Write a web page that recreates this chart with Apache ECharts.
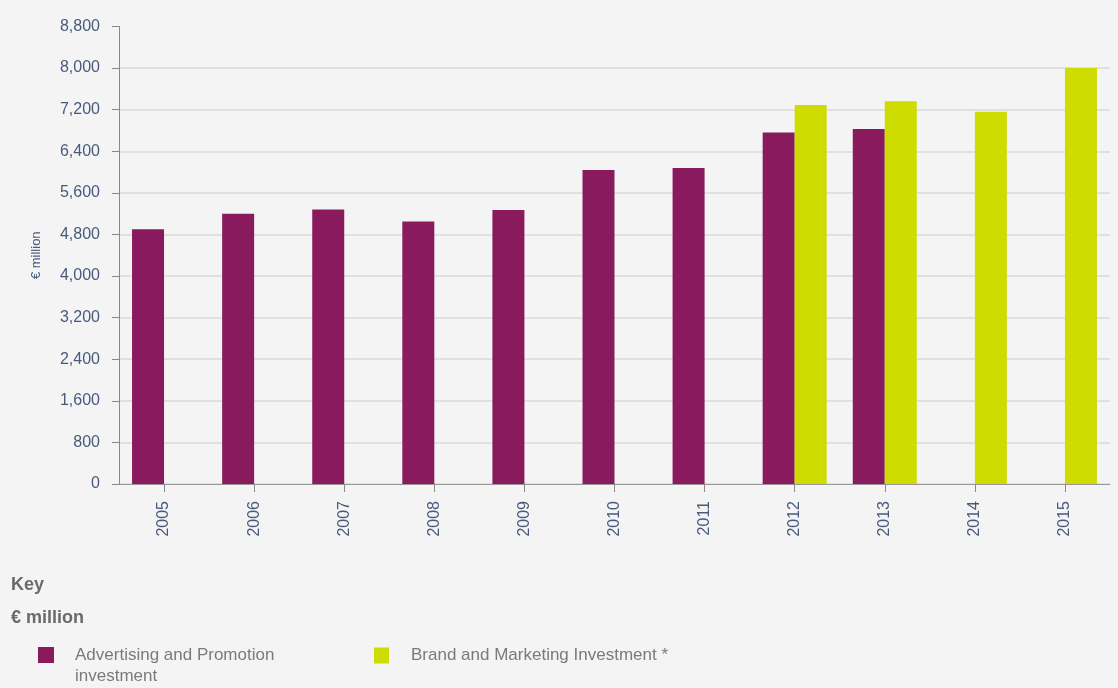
<!DOCTYPE html>
<html>
<head>
<meta charset="utf-8">
<script src="https://cdn.jsdelivr.net/npm/echarts@6/dist/echarts.min.js"></script>
<style>
html,body{margin:0;padding:0;background:#f4f4f4;}
#main{width:1118px;height:688px;}
</style>
</head>
<body>
<div id="main"></div>
<script>
var years = ['2005','2006','2007','2008','2009','2010','2011','2012','2013','2014','2015'];
var advertisingPromotion = [4900, 5200, 5280, 5050, 5270, 6040, 6080, 6760, 6830, null, null];
var brandMarketing = [null, null, null, null, null, null, null, 7290, 7360, 7160, 8000];
var seriesNames = ['Advertising and Promotion investment', 'Brand and Marketing Investment *'];
var yAxisName = '€ million';
var keyTitle = 'Key';
var keyUnit = '€ million';

var labelColor = '#485a7c';
var gridColors = [];
for (var i = 0; i < 11; i++) gridColors.push('#e0e0e0');
gridColors.push('rgba(0,0,0,0)');

var chart = echarts.init(document.getElementById('main'), null, {renderer: 'canvas'});
chart.setOption({
  backgroundColor: '#f4f4f4',
  animation: false,
  textStyle: {fontFamily: 'Liberation Sans, Arial, sans-serif'},
  grid: {left: 119, right: 8, top: 26.5, bottom: 204, containLabel: false},
  xAxis: {
    type: 'category',
    data: years,
    boundaryGap: true,
    axisLine: {lineStyle: {color: '#999999', width: 1}},
    axisTick: {show: true, alignWithLabel: true, length: 8, lineStyle: {color: '#888888'}},
    axisLabel: {rotate: 90, margin: 17, color: labelColor, fontSize: 16},
    splitLine: {show: false}
  },
  yAxis: {
    type: 'value',
    min: 0, max: 8800, interval: 800,
    name: yAxisName,
    nameLocation: 'middle',
    nameRotate: 90,
    nameGap: 76,
    nameTextStyle: {color: labelColor, fontSize: 13},
    axisLine: {show: true, lineStyle: {color: '#888888', width: 1}},
    axisTick: {show: true, length: 7, lineStyle: {color: '#888888'}},
    axisLabel: {margin: 19, color: labelColor, fontSize: 16,
      formatter: function (v) { return v.toLocaleString('en-US'); }},
    splitLine: {show: true, lineStyle: {color: gridColors, width: 2}}
  },
  legend: [
    {
      data: [seriesNames[0]],
      left: 38, top: 623.5, padding: 0,
      itemWidth: 16, itemHeight: 16,
      icon: 'rect',
      formatter: function () { return ' \nAdvertising and Promotion\ninvestment'; },
      textStyle: {color: '#7a7a7a', fontSize: 17, lineHeight: 21, padding: [0, 0, 0, 16]}
    },
    {
      data: [seriesNames[1]],
      left: 374, top: 647, padding: 0,
      itemWidth: 15, itemHeight: 16,
      icon: 'rect',
      textStyle: {color: '#7a7a7a', fontSize: 17, lineHeight: 16, padding: [0, 0, 0, 17]}
    }
  ],
  graphic: [
    {type: 'text', left: 11, top: 576, style: {text: keyTitle, fill: '#6a6a6a', font: 'bold 18px Liberation Sans, Arial, sans-serif'}},
    {type: 'text', left: 11, top: 609, style: {text: keyUnit, fill: '#6a6a6a', font: 'bold 18px Liberation Sans, Arial, sans-serif'}}
  ],
  series: [
    {
      name: seriesNames[0], type: 'bar', data: advertisingPromotion,
      barWidth: 32, barGap: '0%',
      itemStyle: {color: '#8a1a5e'}
    },
    {
      name: seriesNames[1], type: 'bar', data: brandMarketing,
      barWidth: 32, barGap: '0%',
      itemStyle: {color: '#cedc00'}
    }
  ]
});
</script>
</body>
</html>
